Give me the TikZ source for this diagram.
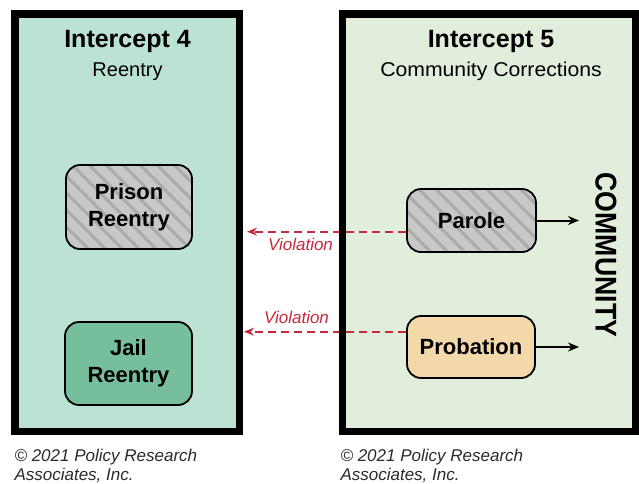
\documentclass[tikz,border=0pt]{standalone}
\usepackage{fontspec}
\setmainfont{Liberation Sans}
\usetikzlibrary{arrows.meta,patterns.meta}
\definecolor{panelL}{HTML}{BCE2D4}
\definecolor{panelR}{HTML}{E0EEDB}
\definecolor{grayfill}{HTML}{C8C8C9}
\definecolor{stripe}{HTML}{ABABAB}
\definecolor{jailfill}{HTML}{77BE9C}
\definecolor{probfill}{HTML}{F3D8A9}
\definecolor{violred}{HTML}{C62A3E}
\definecolor{copytext}{HTML}{2A2A2A}
\tikzset{
  panel/.style={draw=black,line width=7.5pt},
  box/.style={draw=black,line width=1.8pt,rounded corners=14pt,align=center,
    font=\fontsize{22}{27}\selectfont\bfseries,inner sep=0pt},
  hatched/.style={preaction={fill=grayfill},
    pattern={Lines[angle=-45,distance=12pt,line width=3pt]},pattern color=stripe},
  title/.style={anchor=base,font=\fontsize{25}{30}\selectfont\bfseries},
  subtitle/.style={anchor=base,font=\fontsize{20}{24}\selectfont},
  exitarrow/.style={draw=black,line width=2pt,-{Stealth[length=11pt,width=9pt]}},
  violarrow/.style={draw=violred,line width=1.6pt,dash pattern=on 8pt off 5pt,
    -{Stealth[length=10pt,width=8pt]}},
  viollabel/.style={anchor=base,text=violred,font=\fontsize{17}{20}\selectfont\itshape},
  copyright/.style={anchor=base west,text=copytext,align=left,
    font=\fontsize{17}{19}\selectfont\itshape}
}
\begin{document}
\begin{tikzpicture}[x=1pt,y=-1pt]
\useasboundingbox (0,0) rectangle (639,483);
% panels fill
\fill[panelL] (15,14) rectangle (239.5,431.5);
\fill[panelR] (342.5,14) rectangle (636,431.5);
% titles
\node[title] (t4) at (127.5,47.3) {Intercept 4};
\node[subtitle] (s4) at (127.5,76.7) {Reentry};
\node[title] (t5) at (491,47.3) {Intercept 5};
\node[subtitle] (s5) at (491,76.7) {\scalebox{1.06}[1]{Community Corrections}};
% boxes
\node[box,hatched,minimum width=126pt,minimum height=84pt] (prison) at (129,207) {Prison\\Reentry};
\node[box,fill=jailfill,minimum width=127pt,minimum height=83pt] (jail) at (128.5,363.5) {Jail\\Reentry};
\node[box,hatched,minimum width=129pt,minimum height=63pt] (parole) at (471.5,220.5) {Parole};
\node[box,fill=probfill,minimum width=128pt,minimum height=62pt] (probation) at (471,347) {Probation};
% community label
\node[rotate=-90,font=\fontsize{30}{30}\selectfont\bfseries,inner sep=0pt] (community) at (606,255) {\scalebox{0.89}[1]{COMMUNITY}};
% exit arrows
\coordinate (pe) at (579,220.5);
\coordinate (be) at (579,347);
\draw[exitarrow] (parole.east) -- (pe);
\draw[exitarrow] (probation.east) -- (be);
% violation arrows
\coordinate (pv) at (247,231.7);
\coordinate (bv) at (244,331.7);
\draw[violarrow] (parole.west |- pv) -- (pv);
\draw[violarrow] (probation.west |- bv) -- (bv);
\node[viollabel] (v1) at (300.5,250.7) {Violation};
\node[viollabel] (v2) at (296.5,323) {Violation};
% panel borders
\draw[panel] (15,14) rectangle (239.5,431.5);
\draw[panel] (342.5,14) rectangle (636,431.5);
% copyright
\node[copyright] (c1) at (11,480) {\textcopyright{} 2021 Policy Research\\Associates, Inc.};
\node[copyright] (c2) at (337,480) {\textcopyright{} 2021 Policy Research\\Associates, Inc.};
\end{tikzpicture}
\end{document}
